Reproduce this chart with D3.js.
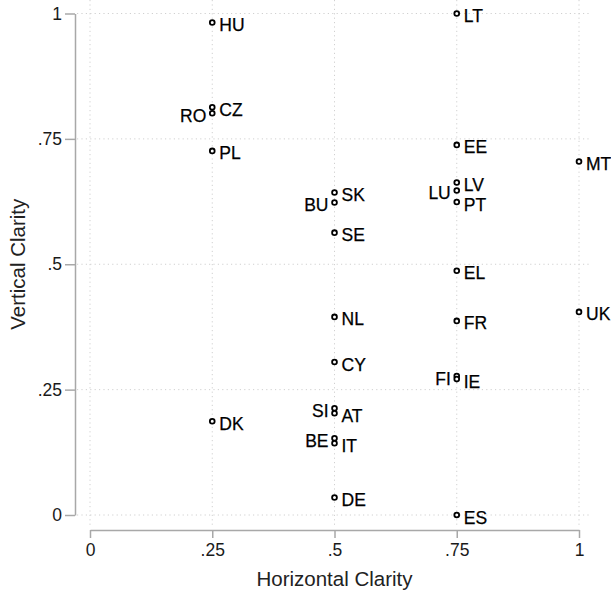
<!DOCTYPE html>
<html>
<head>
<meta charset="utf-8">
<script src="https://d3js.org/d3.v7.min.js"></script>
<style>
  body { margin: 0; background: #fff; }
  text { font-family: "Liberation Sans", Arial, Helvetica, sans-serif; }
</style>
</head>
<body>
<div id="chart"></div>
<script>
// country codes, horizontal clarity, vertical clarity
const paises = ["HU","LT","CZ","RO","PL","EE","MT","SK","LV","LU","BU","PT","SE","EL","UK","NL","FR","CY","FI","IE","SI","AT","DK","BE","IT","DE","ES"];
const horizontal = [0.25,0.75,0.25,0.25,0.25,0.75,1,0.5,0.75,0.75,0.5,0.75,0.5,0.75,1,0.5,0.75,0.5,0.75,0.75,0.5,0.5,0.25,0.5,0.5,0.5,0.75];
const vertical = [0.982,1,0.813,0.801,0.726,0.738,0.705,0.643,0.663,0.647,0.623,0.624,0.563,0.487,0.405,0.395,0.387,0.305,0.277,0.271,0.213,0.203,0.187,0.153,0.143,0.035,0];
// labels drawn on the left of their point
const izquierda = ["RO","BU","SI","BE","LU","FI"];

const ticksX = [0, 0.25, 0.5, 0.75, 1];
const ticksY = [0, 0.25, 0.5, 0.75, 1];
const fmt = d => d === 0 ? "0" : d === 1 ? "1" : String(d).replace(/^0/, "");

const datos = paises.map((p, i) => ({ pais: p, h: horizontal[i], v: vertical[i] }));

const W = 611, H = 596;
const svg = d3.select("#chart").append("svg")
    .attr("width", W)
    .attr("height", H);

// Escalas
const x = d3.scaleLinear().domain([0, 1]).range([90, 579]);
const y = d3.scaleLinear().domain([0, 1]).range([515, 13.5]);

const ejeY = 75, ejeX = 530;

// Rejilla
svg.append("g").selectAll("line")
    .data(ticksY).enter().append("line")
    .attr("x1", ejeY + 2).attr("x2", 590)
    .attr("y1", d => y(d)).attr("y2", d => y(d))
    .attr("stroke", "#d0d0d0").attr("stroke-width", 1)
    .attr("stroke-dasharray", "1.2,3.2");

svg.append("g").selectAll("line")
    .data(ticksX).enter().append("line")
    .attr("x1", d => x(d)).attr("x2", d => x(d))
    .attr("y1", 0).attr("y2", ejeX - 2)
    .attr("stroke", "#d0d0d0").attr("stroke-width", 1)
    .attr("stroke-dasharray", "1.2,3.2");

// Ejes
const gy = svg.append("g")
    .attr("transform", `translate(${ejeY},0)`)
    .call(d3.axisLeft(y).tickValues(ticksY).tickFormat(fmt).tickSize(10).tickSizeOuter(0).tickPadding(3));
const gx = svg.append("g")
    .attr("transform", `translate(0,${ejeX})`)
    .call(d3.axisBottom(x).tickValues(ticksX).tickFormat(fmt).tickSize(8).tickSizeOuter(0).tickPadding(6));

[gy, gx].forEach(g => {
    g.select(".domain").attr("stroke", "#a8a8a8").attr("stroke-width", 1.5);
    g.selectAll(".tick line").attr("stroke", "#a8a8a8").attr("stroke-width", 1.5);
    g.selectAll(".tick text").attr("fill", "#1a1a1a").style("font-size", "17.5px")
        .style("font-family", "'Liberation Sans', Arial, sans-serif");
});

// Títulos
svg.append("text")
    .attr("x", x(0.5)).attr("y", 586)
    .attr("text-anchor", "middle")
    .style("font-size", "20.5px").attr("fill", "#222")
    .text("Horizontal Clarity");

svg.append("text")
    .attr("transform", `translate(25,${y(0.5)}) rotate(-90)`)
    .attr("text-anchor", "middle")
    .style("font-size", "20.5px").attr("fill", "#222")
    .text("Vertical Clarity");

// Puntos
svg.append("g").selectAll("circle")
    .data(datos).enter().append("circle")
    .attr("cx", d => x(d.h))
    .attr("cy", d => y(d.v))
    .attr("r", 2.4)
    .attr("fill", "#fff")
    .attr("stroke", "#000")
    .attr("stroke-width", 1.8);

// Etiquetas
svg.append("g").selectAll("text")
    .data(datos).enter().append("text")
    .attr("x", d => izquierda.includes(d.pais) ? x(d.h) - 6 : x(d.h) + 7)
    .attr("y", d => y(d.v) + 8.5)
    .attr("text-anchor", d => izquierda.includes(d.pais) ? "end" : "start")
    .style("font-size", "17.5px")
    .attr("fill", "#000")
    .attr("stroke", "#000")
    .attr("stroke-width", 0.25)
    .text(d => d.pais);
</script>
</body>
</html>
